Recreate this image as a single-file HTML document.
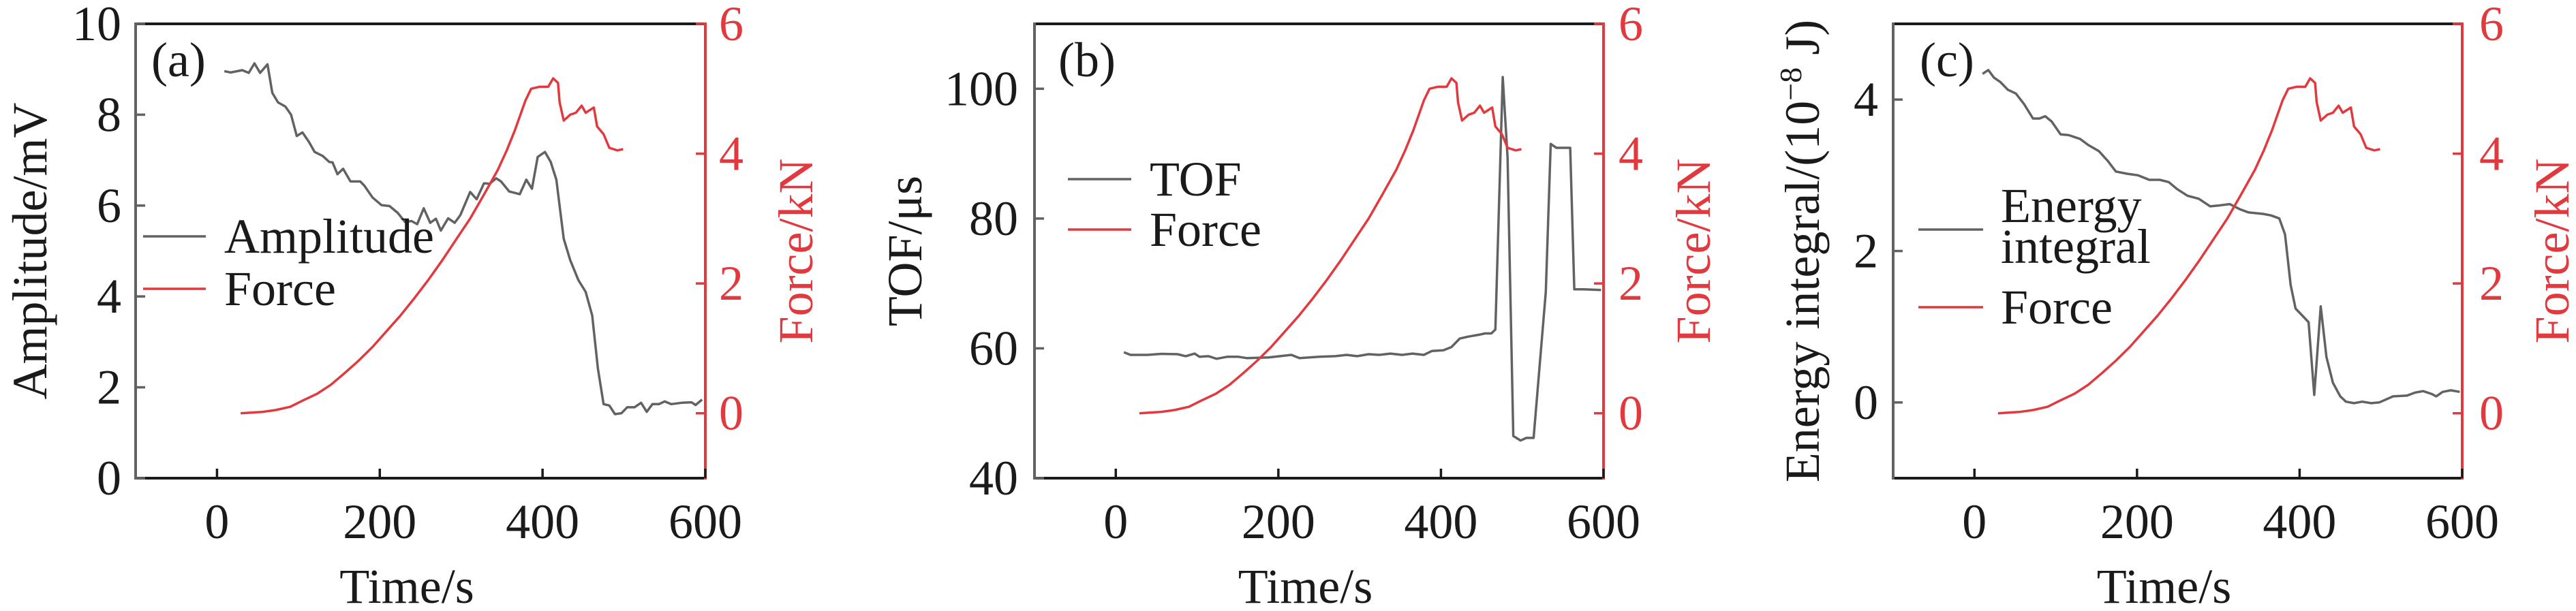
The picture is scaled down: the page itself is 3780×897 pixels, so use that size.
<!DOCTYPE html>
<html><head><meta charset="utf-8">
<style>
html,body{margin:0;padding:0;background:#fff;}
svg{display:block;font-family:"Liberation Serif",serif;}
</style></head>
<body>
<svg id="chart" width="3780" height="897" viewBox="0 0 3780 897" xmlns="http://www.w3.org/2000/svg"></svg>
<script>
// ---- data ----
const xTicks = [0, 200, 400, 600];
const forceTicks = [0, 2, 4, 6];
const forceT = [29,55,72,90,106,123,140,157,174,191,208,225,243,260,277,294,311,328,345,356,366,379,386,396,407,413,419,421,426,434,441,448,453,463,467,475,482,492,499];
const forceV = [0,0.02,0.05,0.1,0.2,0.3,0.44,0.62,0.81,1.02,1.26,1.5,1.78,2.06,2.36,2.68,3.0,3.37,3.75,4.05,4.36,4.82,5.0,5.03,5.03,5.16,5.09,4.79,4.51,4.6,4.63,4.74,4.63,4.71,4.42,4.3,4.09,4.05,4.07];
const ampTicks = [0, 2, 4, 6, 8, 10];
const ampT = [9,17,31,39,46,53,62,68,75,84,91,98,105,113,120,130,138,142,148,155,164,176,181,191,202,212,222,231,239,246,254,262,269,275,284,292,299,311,319,328,335,343,349,359,372,380,387,394,403,410,417,426,434,444,453,461,468,475,482,489,497,504,513,521,528,535,543,550,558,571,583,588,596];
const ampV = [8.96,8.93,8.98,8.92,9.13,8.92,9.11,8.48,8.27,8.18,8.0,7.53,7.61,7.4,7.18,7.09,6.96,6.95,6.69,6.81,6.53,6.53,6.44,6.18,6.01,5.99,5.84,5.64,5.66,5.59,5.94,5.62,5.71,5.45,5.72,5.62,5.79,6.3,6.14,6.49,6.48,6.6,6.53,6.31,6.25,6.57,6.37,7.07,7.18,6.96,6.57,5.27,4.8,4.36,4.1,3.58,2.41,1.63,1.6,1.41,1.43,1.56,1.56,1.66,1.46,1.63,1.63,1.69,1.63,1.66,1.67,1.61,1.73];
const tofTicks = [40, 60, 80, 100];
const tofT = [10,18,39,56,76,86,97,103,114,124,137,151,161,188,216,226,250,270,284,297,311,324,338,352,365,379,389,403,413,423,433,447,454,462,467,476,482,489,498,505,514,529,535,542,552,559,564,576,597];
const tofV = [59.4,59.0,59.0,59.15,59.1,58.8,59.2,58.7,58.8,58.4,58.7,58.7,58.5,58.6,59.0,58.5,58.7,58.8,59.0,58.8,59.1,59.0,59.2,59.0,59.2,59.0,59.6,59.7,60.2,61.5,61.8,62.1,62.3,62.3,62.9,101.8,89.4,46.5,45.8,46.2,46.2,68.7,91.5,90.9,90.9,90.9,69.1,69.1,69.0];
const enTicks = [0, 2, 4];
const enT = [10,17,24,32,41,51,61,72,80,87,95,106,116,130,140,153,164,174,188,201,215,228,239,249,262,276,290,300,314,327,337,355,365,375,382,389,395,404,411,418,426,433,441,450,457,467,477,488,498,515,532,542,552,563,568,576,586,597];
const enV = [4.34,4.39,4.29,4.23,4.13,4.08,3.94,3.75,3.75,3.78,3.71,3.54,3.53,3.48,3.4,3.32,3.19,3.05,3.02,3.0,2.94,2.94,2.91,2.82,2.73,2.69,2.59,2.6,2.62,2.55,2.51,2.49,2.47,2.43,2.22,1.55,1.24,1.14,1.06,0.1,1.27,0.6,0.26,0.08,0.01,-0.01,0.01,-0.01,0.0,0.08,0.09,0.13,0.15,0.11,0.08,0.14,0.16,0.14];

const NS = "http://www.w3.org/2000/svg";
const svg = document.getElementById('chart');
const GRAY = "#626262", RED = "#e2393f", BLACK = "#1a1a1a";
const TOP = 35, BOT = 702, FS = 72;

function mk(tag, attrs, parent, text){
  const e = document.createElementNS(NS, tag);
  for (const k in attrs) e.setAttribute(k, attrs[k]);
  if (text !== undefined) e.textContent = text;
  (parent || svg).appendChild(e);
  return e;
}

const panels = [
  {id:'a', L:199, R:1035, ymin:0, ymax:10, ticks:ampTicks, T:ampT, V:ampV, title:'Amplitude/mV', tlx:178, ttx:44, rtx:1055, rttx:1168, lbl:'(a)', lblx:222,
   leg:[{x1:210,x2:302,y:347,t:'Amplitude',c:GRAY},{x1:210,x2:302,y:424,t:'Force',c:RED}], legtx:329, name:'amplitude'},
  {id:'b', L:1518, R:2353, ymin:40, ymax:110, ticks:tofTicks, T:tofT, V:tofV, title:'TOF/\u03bcs', tlx:1494, ttx:1328, rtx:2375, rttx:2485, lbl:'(b)', lblx:1553,
   leg:[{x1:1567,x2:1660,y:263,t:'TOF',c:GRAY},{x1:1567,x2:1660,y:337,t:'Force',c:RED}], legtx:1687, name:'tof'},
  {id:'c', L:2778, R:3613, ymin:-1, ymax:5, ticks:enTicks, T:enT, V:enV, title:'', tlx:2756, ttx:2645, rtx:3638, rttx:3745, lbl:'(c)', lblx:2817,
   leg:[{x1:2815,x2:2910,y:337,t:'',c:GRAY},{x1:2815,x2:2910,y:451,t:'Force',c:RED}], legtx:2936, name:'energy'}
];

panels.forEach(p => {
  const g = mk('g', {});
  
  
  const xs = t => p.L + (t + 100) / 700 * (p.R - p.L);
  const ys = v => BOT - (v - p.ymin) / (p.ymax - p.ymin) * (BOT - TOP);
  const yf = v => BOT - (v + 1) / 7 * (BOT - TOP);

  const dS = p.T.map((t,i) => (i ? 'L' : 'M') + xs(t).toFixed(1) + ',' + ys(p.V[i]).toFixed(1)).join('');
  const s = mk('path', {d:dS, fill:'none', stroke:GRAY, 'stroke-width':3.5, 'stroke-linejoin':'round'}, g);
  
  
  const dF = forceT.map((t,i) => (i ? 'L' : 'M') + xs(t).toFixed(1) + ',' + yf(forceV[i]).toFixed(1)).join('');
  const f = mk('path', {d:dF, fill:'none', stroke:RED, 'stroke-width':3.5, 'stroke-linejoin':'round'}, g);
  
  

  const st = mk('line', {x1:p.L, x2:p.R, y1:TOP, y2:TOP, stroke:BLACK, 'stroke-width':4}, g);
  
  
  const sb = mk('line', {x1:p.L, x2:p.R, y1:BOT, y2:BOT, stroke:BLACK, 'stroke-width':4}, g);
  
  
  const sl = mk('line', {x1:p.L, x2:p.L, y1:TOP-2, y2:BOT+2, stroke:GRAY, 'stroke-width':4}, g);
  
  
  const sr = mk('line', {x1:p.R, x2:p.R, y1:TOP-2, y2:BOT+2, stroke:RED, 'stroke-width':4}, g);
  
  

  xTicks.forEach(t => {
    const x = xs(t);
    const tk = mk('line', {x1:x, x2:x, y1:BOT, y2:BOT-14, stroke:BLACK, 'stroke-width':3.5}, g);
    
    
    const tl = mk('text', {x:x, y:790, 'text-anchor':'middle', 'font-size':FS, fill:BLACK}, g, String(t));
    
    
  });
  const xt = mk('text', {x:(p.L+p.R)/2 - 20, y:885, 'text-anchor':'middle', 'font-size':FS, fill:BLACK}, g, 'Time/s');
  
  

  p.ticks.forEach(v => {
    const y = ys(v);
    const tk = mk('line', {x1:p.L, x2:p.L+14, y1:y, y2:y, stroke:GRAY, 'stroke-width':3.5}, g);
    
    
    const tl = mk('text', {x:p.tlx, y:y+24, 'text-anchor':'end', 'font-size':FS, fill:BLACK}, g, String(v));
    
    
  });
  forceTicks.forEach(v => {
    const y = yf(v);
    const tk = mk('line', {x1:p.R, x2:p.R-14, y1:y, y2:y, stroke:RED, 'stroke-width':3.5}, g);
    
    
    const tl = mk('text', {x:p.rtx, y:y+24, 'text-anchor':'start', 'font-size':FS, fill:RED}, g, String(v));
    
    
  });

  const cy = (TOP + BOT) / 2;
  const yt = mk('text', {x:0, y:0, transform:`translate(${p.ttx+24},${cy}) rotate(-90)`, 'text-anchor':'middle', 'font-size':FS, fill:BLACK}, g, p.title);
  if (p.id === 'c') {
    yt.textContent = 'Energy integral/(10';
    mk('tspan', {dy:-26, 'font-size':46}, yt, '\u22128');
    mk('tspan', {dy:26, 'font-size':FS}, yt, ' J)');
  }
  
  
  const rt = mk('text', {x:0, y:0, transform:`translate(${p.rttx+24},${cy}) rotate(-90)`, 'text-anchor':'middle', 'font-size':FS, fill:RED}, g, 'Force/kN');
  
  

  const pl = mk('text', {x:p.lblx, y:112, 'font-size':FS, fill:BLACK}, g, p.lbl);
  
  

  p.leg.forEach(l => {
    const ln = mk('line', {x1:l.x1, x2:l.x2, y1:l.y, y2:l.y, stroke:l.c, 'stroke-width':3.5}, g);
    
    
    if (l.t) {
      const lt = mk('text', {x:p.legtx, y:l.y+24, 'font-size':FS, fill:BLACK}, g, l.t);
      
      
    }
  });
  if (p.id === 'c') {
    const e1 = mk('text', {x:p.legtx, y:326, 'font-size':FS, fill:BLACK}, g, 'Energy');
    
    
    const e2 = mk('text', {x:p.legtx, y:386, 'font-size':FS, fill:BLACK}, g, 'integral');
    
    
  }
});
</script>
</body></html>
